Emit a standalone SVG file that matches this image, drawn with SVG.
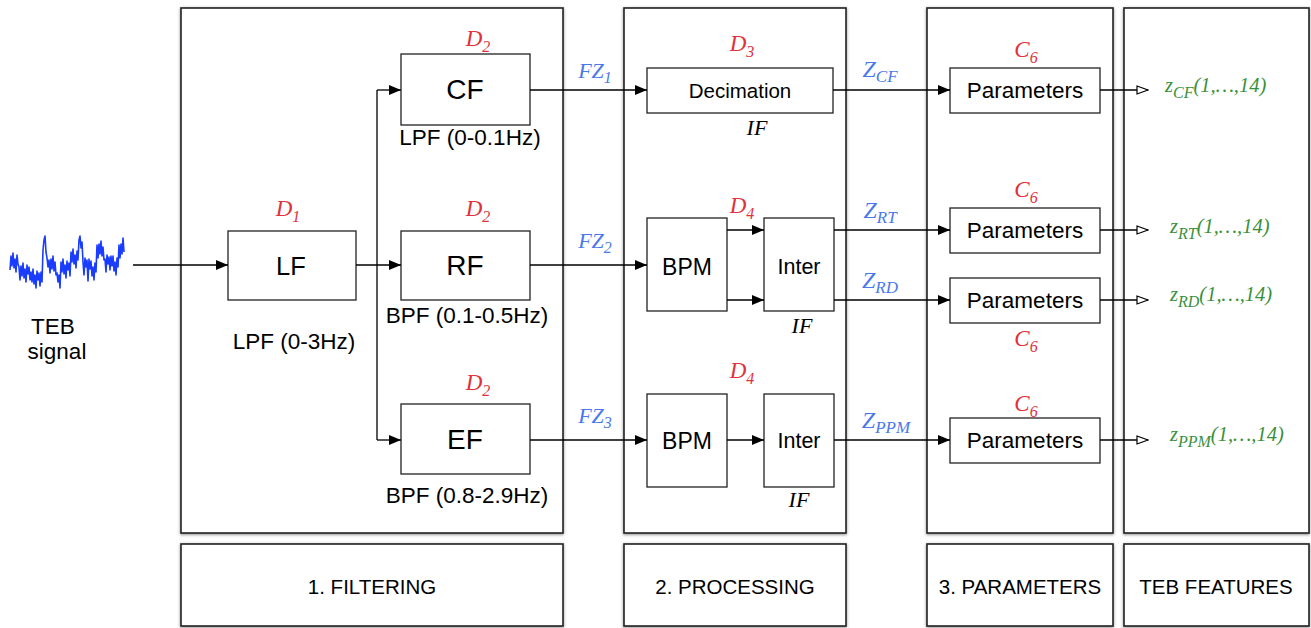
<svg xmlns="http://www.w3.org/2000/svg" width="1311" height="628" viewBox="0 0 1311 628">
  <defs>
    <filter id="shadow" x="-5%" y="-5%" width="110%" height="110%">
      <feDropShadow dx="0" dy="1" stdDeviation="1.6" flood-color="#000" flood-opacity="0.45"/>
    </filter>
    <marker id="arrow" viewBox="0 0 12 10" refX="12" refY="5" markerWidth="12" markerHeight="10" markerUnits="userSpaceOnUse" orient="auto">
      <path d="M0,0 L12,5 L0,10 Z" fill="#000"/>
    </marker>
    <marker id="openArrow" viewBox="0 0 13 10" refX="12" refY="5" markerWidth="13" markerHeight="10" markerUnits="userSpaceOnUse" orient="auto">
      <path d="M1,1 L12,5 L1,9 Z" fill="#fff" stroke="#000" stroke-width="1.2"/>
    </marker>
  </defs>
  <style>
    .panel { fill: #fff; stroke: #222; stroke-width: 1.6; filter: url(#shadow); }
    .box { fill: #fff; stroke: #222; stroke-width: 1.3; }
    .lbl { font-family: "Liberation Sans", Arial, sans-serif; fill: #000; text-anchor: middle; }
    .math { font-family: "Liberation Serif", "Times New Roman", serif; font-style: italic; text-anchor: middle; }
    .start { text-anchor: start; }
    .red { fill: #e0313c; }
    .blue { fill: #4a78ea; }
    .green { fill: #3a903a; }
    .black { fill: #000; }
    .wire { fill: none; stroke: #000; stroke-width: 1.3; }
  </style>

  <!-- stage panels -->
  <g id="panels">
    <rect class="panel" x="181" y="8" width="382" height="525"/>
    <rect class="panel" x="624" y="8" width="222" height="525"/>
    <rect class="panel" x="927" y="8" width="186" height="525"/>
    <rect class="panel" x="1124" y="8" width="185" height="525"/>
  </g>

  <!-- stage captions -->
  <g id="captions">
    <g id="cap-filtering">
      <rect class="panel" x="181" y="544" width="382" height="82"/>
      <text class="lbl" x="372" y="594" font-size="20.5">1. FILTERING</text>
    </g>
    <g id="cap-processing">
      <rect class="panel" x="624" y="544" width="222" height="82"/>
      <text class="lbl" x="735" y="594" font-size="20.5">2. PROCESSING</text>
    </g>
    <g id="cap-parameters">
      <rect class="panel" x="927" y="544" width="186" height="82"/>
      <text class="lbl" x="1020" y="594" font-size="20.5">3. PARAMETERS</text>
    </g>
    <g id="cap-features">
      <rect class="panel" x="1124" y="544" width="185" height="82"/>
      <text class="lbl" x="1216" y="594" font-size="20.5">TEB FEATURES</text>
    </g>
  </g>

  <!-- input signal -->
  <g id="signal">
    <path fill="none" stroke="#1a3cff" stroke-width="1.6" stroke-linejoin="round" d="M10,270 L11,256 L12,266 L13,253 L14,268 L15,259 L16,272 L17,255 L18,264 L19,267 L20,280 L21,266 L22,276 L23,263 L24,278 L25,269 L26,282 L27,265 L28,274 L29,267 L30,280 L31,272 L32,282 L33,269 L34,284 L35,275 L36,288 L37,271 L38,280 L39,273 L40,286 L41,272 L42,282 L43,250 L44,240 L45,236 L46,252 L47,258 L48,267 L49,260 L50,273 L51,259 L52,269 L53,256 L54,271 L55,262 L56,275 L57,273 L58,282 L59,275 L60,288 L61,262 L62,272 L63,259 L64,274 L65,265 L66,278 L67,261 L68,270 L69,263 L70,276 L71,252 L72,262 L73,249 L74,264 L75,255 L76,268 L77,251 L78,260 L79,240 L80,236 L81,248 L82,242 L83,262 L84,275 L85,258 L86,267 L87,260 L88,281 L89,259 L90,269 L91,261 L92,276 L93,267 L94,280 L95,263 L96,272 L97,245 L98,258 L99,244 L100,254 L101,241 L102,256 L103,247 L104,260 L105,259 L106,272 L107,255 L108,264 L109,257 L110,270 L111,256 L112,266 L113,256 L114,271 L115,262 L116,275 L117,258 L118,267 L119,245 L120,258 L121,244 L122,254 L123,238 L124,252"/>
    <text class="lbl" x="53" y="334" font-size="22.5">TEB</text>
    <text class="lbl" x="57" y="359" font-size="22.5">signal</text>
  </g>

  <!-- filtering nodes -->
  <g id="node-LF">
    <rect class="box" x="228" y="231" width="128" height="69"/>
    <text class="lbl" x="291" y="275" font-size="25.5">LF</text>
    <text class="math red" x="288" y="216" font-size="23">D<tspan font-size="16" dy="6">1</tspan></text>
    <text class="lbl" x="294" y="349" font-size="22.5">LPF (0-3Hz)</text>
  </g>
  <g id="node-CF">
    <rect class="box" x="401" y="54" width="129" height="71"/>
    <text class="lbl" x="465" y="99" font-size="28">CF</text>
    <text class="math red" x="478" y="46" font-size="23">D<tspan font-size="16" dy="6">2</tspan></text>
    <text class="lbl" x="470" y="145" font-size="22.5">LPF (0-0.1Hz)</text>
  </g>
  <g id="node-RF">
    <rect class="box" x="401" y="231" width="129" height="69"/>
    <text class="lbl" x="465" y="275" font-size="28">RF</text>
    <text class="math red" x="478" y="216" font-size="23">D<tspan font-size="16" dy="6">2</tspan></text>
    <text class="lbl" x="467" y="323" font-size="22.5">BPF (0.1-0.5Hz)</text>
  </g>
  <g id="node-EF">
    <rect class="box" x="401" y="404" width="129" height="70"/>
    <text class="lbl" x="465" y="449" font-size="28">EF</text>
    <text class="math red" x="478" y="390" font-size="23">D<tspan font-size="16" dy="6">2</tspan></text>
    <text class="lbl" x="467" y="503" font-size="22.5">BPF (0.8-2.9Hz)</text>
  </g>

  <!-- processing nodes -->
  <g id="node-Decimation">
    <rect class="box" x="647" y="68" width="186" height="45"/>
    <text class="lbl" x="740" y="98" font-size="20.5">Decimation</text>
    <text class="math red" x="742" y="51" font-size="23">D<tspan font-size="16" dy="6">3</tspan></text>
    <text class="math black" x="757" y="135" font-size="22">IF</text>
  </g>
  <g id="node-BPM1">
    <rect class="box" x="647" y="218" width="80" height="93"/>
    <text class="lbl" x="687" y="275" font-size="23">BPM</text>
  </g>
  <g id="node-Inter1">
    <rect class="box" x="764" y="218" width="70" height="93"/>
    <text class="lbl" x="799" y="274" font-size="21.5">Inter</text>
    <text class="math red" x="742" y="213" font-size="23">D<tspan font-size="16" dy="6">4</tspan></text>
    <text class="math black" x="802" y="333" font-size="22">IF</text>
  </g>
  <g id="node-BPM2">
    <rect class="box" x="647" y="394" width="80" height="93"/>
    <text class="lbl" x="687" y="449" font-size="23">BPM</text>
  </g>
  <g id="node-Inter2">
    <rect class="box" x="764" y="394" width="70" height="93"/>
    <text class="lbl" x="799" y="448" font-size="21.5">Inter</text>
    <text class="math red" x="742" y="378" font-size="23">D<tspan font-size="16" dy="6">4</tspan></text>
    <text class="math black" x="799" y="507" font-size="22">IF</text>
  </g>

  <!-- parameter nodes -->
  <g id="node-Params-CF">
    <rect class="box" x="950" y="68" width="150" height="45"/>
    <text class="lbl" x="1025" y="98" font-size="22.5">Parameters</text>
    <text class="math red" x="1026" y="57" font-size="23">C<tspan font-size="16" dy="6">6</tspan></text>
  </g>
  <g id="node-Params-RT">
    <rect class="box" x="950" y="208" width="150" height="45"/>
    <text class="lbl" x="1025" y="238" font-size="22.5">Parameters</text>
    <text class="math red" x="1026" y="197" font-size="23">C<tspan font-size="16" dy="6">6</tspan></text>
  </g>
  <g id="node-Params-RD">
    <rect class="box" x="950" y="278" width="150" height="45"/>
    <text class="lbl" x="1025" y="308" font-size="22.5">Parameters</text>
    <text class="math red" x="1026" y="346" font-size="23">C<tspan font-size="16" dy="6">6</tspan></text>
  </g>
  <g id="node-Params-PPM">
    <rect class="box" x="950" y="418" width="150" height="45"/>
    <text class="lbl" x="1025" y="448" font-size="22.5">Parameters</text>
    <text class="math red" x="1026" y="411" font-size="23">C<tspan font-size="16" dy="6">6</tspan></text>
  </g>

  <!-- feature outputs -->
  <g id="features">
    <text class="math green start" x="1165" y="92" font-size="20.5">z<tspan font-size="16" dy="6">CF</tspan><tspan dy="-6">(1,…,14)</tspan></text>
    <text class="math green start" x="1170" y="233" font-size="20.5">z<tspan font-size="16" dy="6">RT</tspan><tspan dy="-6">(1,…,14)</tspan></text>
    <text class="math green start" x="1170" y="301" font-size="20.5">z<tspan font-size="16" dy="6">RD</tspan><tspan dy="-6">(1,…,14)</tspan></text>
    <text class="math green start" x="1170" y="441" font-size="20.5">z<tspan font-size="16" dy="6">PPM</tspan><tspan dy="-6">(1,…,14)</tspan></text>
  </g>

  <!-- connectors -->
  <g id="connectors">
    <line class="wire" x1="133" y1="265" x2="228" y2="265" marker-end="url(#arrow)"/>
    <line class="wire" x1="356" y1="265" x2="401" y2="265" marker-end="url(#arrow)"/>
    <line class="wire" x1="377" y1="90" x2="377" y2="440"/>
    <line class="wire" x1="377" y1="90" x2="401" y2="90" marker-end="url(#arrow)"/>
    <line class="wire" x1="377" y1="440" x2="401" y2="440" marker-end="url(#arrow)"/>

    <line class="wire" x1="530" y1="90" x2="647" y2="90" marker-end="url(#arrow)"/>
    <line class="wire" x1="530" y1="265" x2="647" y2="265" marker-end="url(#arrow)"/>
    <line class="wire" x1="530" y1="440" x2="647" y2="440" marker-end="url(#arrow)"/>
    <text class="math blue" x="595" y="78" font-size="22">FZ<tspan font-size="16" dy="5">1</tspan></text>
    <text class="math blue" x="595" y="248" font-size="22">FZ<tspan font-size="16" dy="5">2</tspan></text>
    <text class="math blue" x="595" y="423" font-size="22">FZ<tspan font-size="16" dy="5">3</tspan></text>

    <line class="wire" x1="727" y1="230" x2="764" y2="230" marker-end="url(#arrow)"/>
    <line class="wire" x1="727" y1="300" x2="764" y2="300" marker-end="url(#arrow)"/>
    <line class="wire" x1="727" y1="440" x2="764" y2="440" marker-end="url(#arrow)"/>

    <line class="wire" x1="833" y1="90" x2="950" y2="90" marker-end="url(#arrow)"/>
    <line class="wire" x1="834" y1="230" x2="950" y2="230" marker-end="url(#arrow)"/>
    <line class="wire" x1="834" y1="300" x2="950" y2="300" marker-end="url(#arrow)"/>
    <line class="wire" x1="834" y1="440" x2="950" y2="440" marker-end="url(#arrow)"/>
    <text class="math blue" x="880" y="77" font-size="24">Z<tspan font-size="17" dy="5">CF</tspan></text>
    <text class="math blue" x="880" y="218" font-size="24">Z<tspan font-size="17" dy="5">RT</tspan></text>
    <text class="math blue" x="880" y="288" font-size="24">Z<tspan font-size="17" dy="5">RD</tspan></text>
    <text class="math blue" x="886" y="428" font-size="24">Z<tspan font-size="17" dy="5">PPM</tspan></text>

    <line class="wire" x1="1100" y1="90" x2="1148" y2="90" marker-end="url(#openArrow)"/>
    <line class="wire" x1="1100" y1="230" x2="1148" y2="230" marker-end="url(#openArrow)"/>
    <line class="wire" x1="1100" y1="300" x2="1148" y2="300" marker-end="url(#openArrow)"/>
    <line class="wire" x1="1100" y1="440" x2="1148" y2="440" marker-end="url(#openArrow)"/>
  </g>
</svg>
